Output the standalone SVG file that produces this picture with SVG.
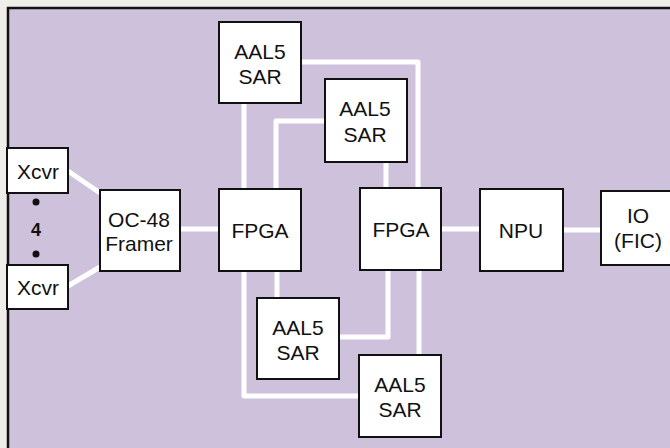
<svg xmlns="http://www.w3.org/2000/svg" width="670" height="448" viewBox="0 0 670 448">
  <style>
    .box { fill: #ffffff; stroke: #111111; stroke-width: 2; }
    .lbl { font-family: "Liberation Sans", Arial, sans-serif; font-size: 21px; fill: #111111; text-anchor: middle; }
    .wire { fill: none; stroke: #ffffff; stroke-width: 5; stroke-linejoin: round; }
  </style>
  <!-- page and board -->
  <rect x="0" y="0" width="670" height="448" fill="#efeeea"/>
  <rect x="8" y="8" width="680" height="460" fill="#cec1dc" stroke="#111111" stroke-width="2.5"/>

  <!-- connectors -->
  <g id="connectors" class="wire">
    <line x1="68" y1="171" x2="100" y2="193"/>
    <line x1="68" y1="286" x2="100" y2="267"/>
    <line x1="180" y1="229" x2="219" y2="229"/>
    <line x1="441" y1="229" x2="480" y2="229"/>
    <line x1="563" y1="230" x2="601" y2="230"/>
    <!-- top SARs to FPGAs -->
    <line x1="244" y1="103" x2="244" y2="189"/>
    <polyline points="276,189 276,121 325,121"/>
    <polyline points="301,62 418,62 418,188"/>
    <line x1="386" y1="162" x2="386" y2="188"/>
    <!-- bottom SARs to FPGAs -->
    <line x1="277" y1="271" x2="277" y2="298"/>
    <polyline points="244,271 244,396 359,396"/>
    <polyline points="388,270 388,337 339,337"/>
    <line x1="419" y1="270" x2="419" y2="355"/>
  </g>

  <g id="xcvr-top">
    <rect class="box" x="7" y="148" width="61" height="45"/>
    <text class="lbl" x="38" y="179">Xcvr</text>
  </g>
  <g id="xcvr-count">
    <circle cx="36" cy="202" r="3.5" fill="#111111"/>
    <text class="lbl" x="36" y="236" style="font-weight:bold;font-size:18px">4</text>
    <circle cx="36" cy="254" r="3.5" fill="#111111"/>
  </g>
  <g id="xcvr-bottom">
    <rect class="box" x="7" y="265" width="61" height="44"/>
    <text class="lbl" x="38" y="295">Xcvr</text>
  </g>
  <g id="framer">
    <rect class="box" x="100" y="190" width="80" height="81"/>
    <text class="lbl" x="139" y="227">OC-48</text>
    <text class="lbl" x="139" y="251">Framer</text>
  </g>
  <g id="fpga-a">
    <rect class="box" x="219" y="189" width="82" height="82"/>
    <text class="lbl" x="260" y="238">FPGA</text>
  </g>
  <g id="fpga-b">
    <rect class="box" x="360" y="188" width="81" height="82"/>
    <text class="lbl" x="401" y="237">FPGA</text>
  </g>
  <g id="npu">
    <rect class="box" x="480" y="189" width="83" height="82"/>
    <text class="lbl" x="521" y="238">NPU</text>
  </g>
  <g id="io-fic">
    <rect class="box" x="601" y="191" width="80" height="74"/>
    <text class="lbl" x="638" y="223">IO</text>
    <text class="lbl" x="638" y="248">(FIC)</text>
  </g>
  <g id="sar-1">
    <rect class="box" x="219" y="22" width="82" height="81"/>
    <text class="lbl" x="260" y="59">AAL5</text>
    <text class="lbl" x="260" y="84">SAR</text>
  </g>
  <g id="sar-2">
    <rect class="box" x="325" y="79" width="82" height="83"/>
    <text class="lbl" x="365" y="116">AAL5</text>
    <text class="lbl" x="365" y="142">SAR</text>
  </g>
  <g id="sar-3">
    <rect class="box" x="257" y="298" width="82" height="81"/>
    <text class="lbl" x="298" y="335">AAL5</text>
    <text class="lbl" x="298" y="360">SAR</text>
  </g>
  <g id="sar-4">
    <rect class="box" x="359" y="355" width="82" height="82"/>
    <text class="lbl" x="400" y="392">AAL5</text>
    <text class="lbl" x="400" y="417">SAR</text>
  </g>
</svg>
